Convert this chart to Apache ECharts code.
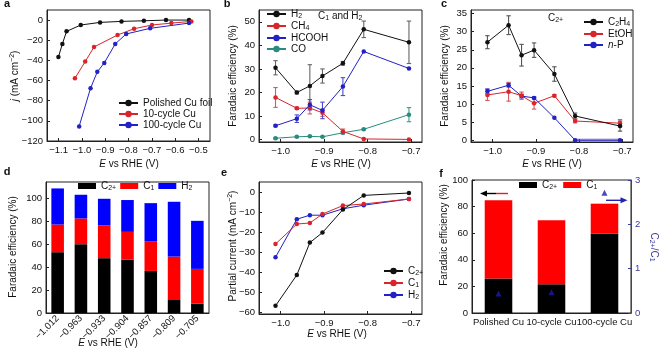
<!DOCTYPE html>
<html><head><meta charset="utf-8">
<script src="https://cdn.jsdelivr.net/npm/echarts@6/dist/echarts.min.js"></script>
<style>html,body{margin:0;padding:0;background:#fff}#c{width:662px;height:360px}</style>
</head><body><div id="c"></div>
<script>
// ---------- DATA ----------
// panel a
const aPolX = [-1.101,-1.084,-1.066,-1.005,-0.922,-0.830,-0.734,-0.639,-0.540];
const aPolY = [-36.6,-23.7,-11.2,-4.9,-2.3,-1.3,-0.7,0,0];
const a10X = [-1.030,-0.986,-0.948,-0.847,-0.776,-0.699,-0.616,-0.530];
const a10Y = [-57.7,-41.2,-26.7,-14.8,-8.6,-4.9,-3.0,-1.3];
const a100X = [-1.012,-0.963,-0.934,-0.904,-0.857,-0.810,-0.707,-0.540];
const a100Y = [-105.5,-67.6,-51.4,-42.5,-23.7,-13.8,-8.2,-3.0];
const aXTicks = [-1.1,-1.0,-0.9,-0.8,-0.7,-0.6,-0.5];
const aYTicks = [-120,-100,-80,-60,-40,-20,0];
// potentials
const E = [-1.012,-0.963,-0.933,-0.904,-0.857,-0.809,-0.705];
const eTicks = [-1.0,-0.9,-0.8,-0.7];
// panel b
const bH2 = [30.5,20.0,22.8,27.0,32.4,46.8,41.3];
const bH2Err = [3.0,0.6,9.0,3.0,0.8,3.5,9.0];
const bCH4 = [17.9,13.3,13.4,11.4,3.5,0.3,0.1];
const bCH4Err = [4.2,0.5,2.5,1.5,1.0,0,0];
const bHCOOH = [5.9,8.9,14.8,12.4,22.5,37.4,30.2];
const bHCOOHErr = [0.4,1.6,2.2,3.5,3.8,0,0];
const bCO = [0.6,1.2,1.4,1.2,2.9,4.4,10.6];
const bCOErr = [0.3,0.2,0.2,0.2,0.4,0.3,3.0];
const bYTicks = [0,10,20,30,40,50];
// panel c
const cC2H4 = [27.1,31.8,23.5,24.9,18.3,6.7,3.9];
const cC2H4Err = [1.8,2.6,3.0,2.0,2.0,0.8,1.4];
const cEtOH = [12.5,13.4,12.3,10.2,12.3,5.3,4.7];
const cEtOHErr = [1.5,2.6,1.0,1.6,0.3,0.5,1.0];
const cNP = [13.5,15.2,12.2,11.7,6.2,0,0];
const cNPErr = [0.7,0.5,0.5,0.3,0,0,0];
const cBandX = [-0.809,-0.705];
const cBandY = [-0.25,0.45];
const cYTicks = [0,5,10,15,20,25,30,35];
// panel d
const dCats = ['\u22121.012','\u22120.963','\u22120.933','\u22120.904','\u22120.857','\u22120.809','\u22120.705'];
const dC2 = [52.9,59.9,47.7,46.5,36.6,11.3,8.1];
const dC1 = [24.1,22.4,28.5,24.1,25.9,37.8,30.3];
const dH2 = [31.4,20.6,23.2,27.7,33.1,47.7,41.8];
const dYTicks = [0,20,40,60,80,100];
// panel e
const eC2 = [-56.9,-41.5,-25.3,-20.3,-8.8,-1.7,-0.5];
const eC1 = [-26.0,-16.0,-15.5,-11.0,-6.8,-6.0,-3.5];
const eH2 = [-32.6,-13.6,-11.6,-11.6,-8.4,-6.6,-3.5];
const eYTicks = [-60,-50,-40,-30,-20,-10,0];
// panel f
const fCats = ['Polished Cu','10-cycle Cu','100-cycle Cu'];
const fC2 = [25.9,21.6,59.8];
const fC1 = [58.8,48.2,22.4];
const fRatio = [0.44,0.47,2.71];
const fYTicks = [0,20,40,60,80,100];
const fY2Ticks = [0,1,2,3];

// ---------- STYLE ----------
const FF = "'Liberation Sans', Arial, Helvetica, sans-serif";
const AX = '#222';
const TC = '#111';
const BLK = '#111', RED = '#d8252b', BLU = '#2121c4', TEAL = '#2a8b7f';
const RBLU = '#3b3b9e';
const RICH = {
  n:{fontSize:10,fontFamily:FF,color:TC},
  i:{fontSize:10,fontFamily:FF,fontStyle:'italic',color:TC},
  sub:{fontSize:7,fontFamily:FF,padding:[5,0,0,0],color:TC},
  sup:{fontSize:7,fontFamily:FF,padding:[0,0,5,0],color:TC}
};
const LBL = {
  bH2:'{n|H}{sub|2}', bCH4:'{n|CH}{sub|4}', bHCOOH:'{n|HCOOH}', bCO:'{n|CO}',
  cC2H4:'{n|C}{sub|2}{n|H}{sub|4}', cEtOH:'{n|EtOH}', cNP:'{i|n}{n|-P}',
  dC2:'{n|C}{sub|2+}', dC1:'{n|C}{sub|1}', dH2:'{n|H}{sub|2}',
  eC2:'{n|C}{sub|2+}', eC1:'{n|C}{sub|1}', eH2:'{n|H}{sub|2}',
  fC2:'{n|C}{sub|2+}', fC1:'{n|C}{sub|1}'
};
const fmt1 = v => (v < -1e-9 ? '\u2212' : '') + Math.abs(v).toFixed(1);
const fmt0 = v => (v < -1e-9 ? '\u2212' : '') + Math.abs(Math.round(v));

function valAxis(gi, min, max, ticks, fmt, extra) {
  return Object.assign({
    type:'value', gridIndex:gi, min, max,
    axisLine:{show:true,onZero:false,lineStyle:{color:AX,width:1}},
    axisTick:{show:true,inside:true,length:3,customValues:ticks,lineStyle:{color:AX}},
    axisLabel:{customValues:ticks,formatter:fmt,fontSize:9.5,color:TC,fontFamily:FF,margin:4},
    splitLine:{show:false}
  }, extra || {});
}
function catAxis(gi, data, extraLabel) {
  return {
    type:'category', gridIndex:gi, data, boundaryGap:true,
    axisLine:{show:true,onZero:false,lineStyle:{color:AX,width:1}},
    axisTick:{show:false},
    axisLabel:Object.assign({interval:0,fontSize:9.5,color:TC,fontFamily:FF,margin:4}, extraLabel||{}),
    splitLine:{show:false}
  };
}
function lineS(name, gi, xs, ys, color) {
  return { name, type:'line', xAxisIndex:gi, yAxisIndex:gi,
    data: xs.map((x,i)=>[x, ys[i]]), symbol:'circle', symbolSize:4.5,
    lineStyle:{width:1,color}, itemStyle:{color}, color, z:3, animation:false, clip:false };
}
function errS(gi, xs, ys, es, color) {
  const data = [];
  xs.forEach((x,i)=>{ if (es[i] > 0) data.push([x, ys[i]-es[i], ys[i]+es[i]]); });
  return { type:'custom', xAxisIndex:gi, yAxisIndex:gi, data, encode:{x:0,y:[1,2]},
    z:2, silent:true, animation:false,
    renderItem:(p, api) => {
      const x = api.value(0);
      const a = api.coord([x, api.value(1)]);
      const b = api.coord([x, api.value(2)]);
      const w = 2.2, st = {stroke:color, lineWidth:1.1};
      return {type:'group', children:[
        {type:'line', shape:{x1:a[0],y1:a[1],x2:b[0],y2:b[1]}, style:st},
        {type:'line', shape:{x1:a[0]-w,y1:a[1],x2:a[0]+w,y2:a[1]}, style:st},
        {type:'line', shape:{x1:b[0]-w,y1:b[1],x2:b[0]+w,y2:b[1]}, style:st}
      ]};
    }};
}
function barS(name, gi, yi, data, color, stack, width) {
  return { name, type:'bar', xAxisIndex:gi, yAxisIndex:yi, data, stack, barWidth:width,
    itemStyle:{color}, color, animation:false };
}
function txt(x, y, text, o) {
  o = o || {};
  return { type:'text', x, y, rotation:o.rot || 0, z:10, silent:true,
    style:{ text, fill:o.fill || TC, fontSize:o.size || 10, fontFamily:FF,
      fontWeight:o.weight || 'normal', align:o.align || 'center', verticalAlign:'middle',
      rich:o.rich || RICH } };
}
function legend(data, left, top, o) {
  o = o || {};
  return Object.assign({ data, left, top, orient:'vertical', padding:0, itemWidth:19, itemHeight:8,
    itemGap:1, selectedMode:false,
    formatter: n => LBL[n] || n,
    textStyle:{fontSize:10,fontFamily:FF,color:TC,rich:RICH} }, o);
}

const grids = [
  {left:47, top:10, width:163, height:131},
  {left:259, top:10, width:163, height:132},
  {left:471, top:10, width:162, height:132},
  {left:46, top:182, width:163, height:131},
  {left:259, top:182, width:163, height:132},
  {left:472, top:180, width:159, height:133}
].map(g => Object.assign({show:true, borderColor:AX, borderWidth:1, backgroundColor:'transparent', containLabel:false}, g));

const xAxes = [
  valAxis(0, -1.15, -0.45, aXTicks, fmt1),
  valAxis(1, -1.05, -0.675, eTicks, fmt1),
  valAxis(2, -1.05, -0.675, eTicks, fmt1),
  catAxis(3, dCats, {rotate:45}),
  valAxis(4, -1.05, -0.675, eTicks, fmt1),
  catAxis(5, fCats)
];
const yAxes = [
  valAxis(0, -120, 10, aYTicks, fmt0),
  valAxis(1, -1, 55, bYTicks, fmt0),
  valAxis(2, -0.5, 36, cYTicks, fmt0),
  valAxis(3, 0, 114, dYTicks, fmt0),
  valAxis(4, -61, 5, eYTicks, fmt0),
  valAxis(5, 0, 100, fYTicks, fmt0),
  valAxis(5, 0, 3, fY2Ticks, fmt0, {position:'right',
    axisLine:{show:true,onZero:false,lineStyle:{color:RBLU,width:1}},
    axisTick:{show:true,inside:true,length:3,customValues:fY2Ticks,lineStyle:{color:RBLU}},
    axisLabel:{customValues:fY2Ticks,formatter:fmt0,fontSize:9.5,color:RBLU,fontFamily:FF,margin:4}})
];

const series = [
  // a
  lineS('Polished Cu foil', 0, aPolX, aPolY, BLK),
  lineS('10-cycle Cu', 0, a10X, a10Y, RED),
  lineS('100-cycle Cu', 0, a100X, a100Y, BLU),
  // b
  errS(1, E, bH2, bH2Err, '#666'),
  errS(1, E, bCH4, bCH4Err, '#d25a5a'),
  errS(1, E, bHCOOH, bHCOOHErr, '#4a4ad0'),
  errS(1, E, bCO, bCOErr, '#3a9a8e'),
  lineS('bCO', 1, E, bCO, TEAL),
  lineS('bCH4', 1, E, bCH4, RED),
  lineS('bHCOOH', 1, E, bHCOOH, BLU),
  lineS('bH2', 1, E, bH2, BLK),
  // c
  errS(2, E, cC2H4, cC2H4Err, '#555'),
  errS(2, E, cEtOH, cEtOHErr, '#d25a5a'),
  errS(2, E, cNP, cNPErr, '#4a4ad0'),
  Object.assign(lineS('cNP', 2, E, cNP, BLU), {
    markArea:{silent:true, itemStyle:{color:'rgba(110,110,190,0.55)'},
      data:[[{coord:[cBandX[0], cBandY[0]]},{coord:[cBandX[1], cBandY[1]]}]]}
  }),
  lineS('cEtOH', 2, E, cEtOH, RED),
  lineS('cC2H4', 2, E, cC2H4, BLK),
  // d
  barS('dC2', 3, 3, dC2, '#000000', 'd', '54%'),
  barS('dC1', 3, 3, dC1, '#ff0000', 'd', '54%'),
  barS('dH2', 3, 3, dH2, '#0000ff', 'd', '54%'),
  // e
  lineS('eH2', 4, E, eH2, BLU),
  lineS('eC1', 4, E, eC1, RED),
  lineS('eC2', 4, E, eC2, BLK),
  // f
  barS('fC2', 5, 5, fC2, '#000000', 'f', '52%'),
  barS('fC1', 5, 5, fC1, '#ff0000', 'f', '52%'),
  { name:'fRatio', type:'scatter', xAxisIndex:5, yAxisIndex:6, data:fRatio, symbol:'triangle',
    symbolSize:6, itemStyle:{color:'#1c1cae'}, z:5, animation:false }
];

const legends = [
  legend(['Polished Cu foil','10-cycle Cu','100-cycle Cu'], 118, 98),
  legend(['bH2','bCH4','bHCOOH','bCO'], 266, 9),
  legend(['cC2H4','cEtOH','cNP'], 583, 17),
  legend(['dC2','dC1','dH2'], 78, 181, {orient:'horizontal', icon:'rect', itemWidth:18, itemHeight:6, itemGap:4}),
  legend(['eC2','eC1','eH2'], 383, 266),
  legend(['fC2','fC1'], 519, 180, {orient:'horizontal', icon:'rect', itemWidth:18, itemHeight:6, itemGap:6})
];

const XT = '{i|E}{n| vs RHE (V)}';
const FE = '{n|Faradaic efficiency (%)}';
const graphics = [
  txt(7, 4, 'a', {weight:'bold', size:11}),
  txt(227, 4, 'b', {weight:'bold', size:11}),
  txt(444, 4, 'c', {weight:'bold', size:11}),
  txt(7, 172, 'd', {weight:'bold', size:11}),
  txt(224, 173, 'e', {weight:'bold', size:11}),
  txt(441, 174, 'f', {weight:'bold', size:11}),
  txt(129, 164, XT), txt(341, 164, XT), txt(552, 164, XT),
  txt(108, 343, XT), txt(337, 334, XT),
  txt(15, 76, '{i|j}{n| (mA cm}{sup|\u22122}{n|)}', {rot:Math.PI/2}),
  txt(233, 76, FE, {rot:Math.PI/2}),
  txt(445, 76, FE, {rot:Math.PI/2}),
  txt(13, 247, FE, {rot:Math.PI/2}),
  txt(233, 246, '{n|Partial current (mA cm}{sup|\u22122}{n|)}', {rot:Math.PI/2}),
  txt(444, 235, FE, {rot:Math.PI/2}),
  txt(654, 247, '{b|C}{bs|2+}{b|/C}{bs|1}', {rot:-Math.PI/2, rich:{
    b:{fontSize:10,fontFamily:FF,fill:RBLU,color:RBLU},
    bs:{fontSize:7,fontFamily:FF,padding:[5,0,0,0],fill:RBLU,color:RBLU}}}),
  txt(318, 16, '{n|C}{sub|1}{n| and H}{sub|2}', {align:'left'}),
  txt(548, 18, '{n|C}{sub|2+}', {align:'left'}),
  // arrows in f
  {type:'polygon', silent:true, z:10, shape:{points:[[480,193.5],[487,190.5],[487,196.5]]}, style:{fill:'#000'}},
  {type:'line', silent:true, z:10, shape:{x1:486,y1:193.5,x2:496,y2:193.5}, style:{stroke:'#000',lineWidth:1.4}},
  {type:'line', silent:true, z:10, shape:{x1:496,y1:193.5,x2:508,y2:193.5}, style:{stroke:'#e02020',lineWidth:1.4}},
  {type:'line', silent:true, z:10, shape:{x1:606,y1:200.3,x2:622,y2:200.3}, style:{stroke:'#2323b5',lineWidth:1.4}},
  {type:'polygon', silent:true, z:10, shape:{points:[[627.5,200.3],[620.5,197.3],[620.5,203.3]]}, style:{fill:'#2323b5'}}
];

const chart = echarts.init(document.getElementById('c'), null, {renderer:'canvas'});
chart.setOption({
  animation:false,
  backgroundColor:'#fff',
  textStyle:{fontFamily:FF},
  grid:grids, xAxis:xAxes, yAxis:yAxes, series, legend:legends, graphic:graphics
});
</script></body></html>
